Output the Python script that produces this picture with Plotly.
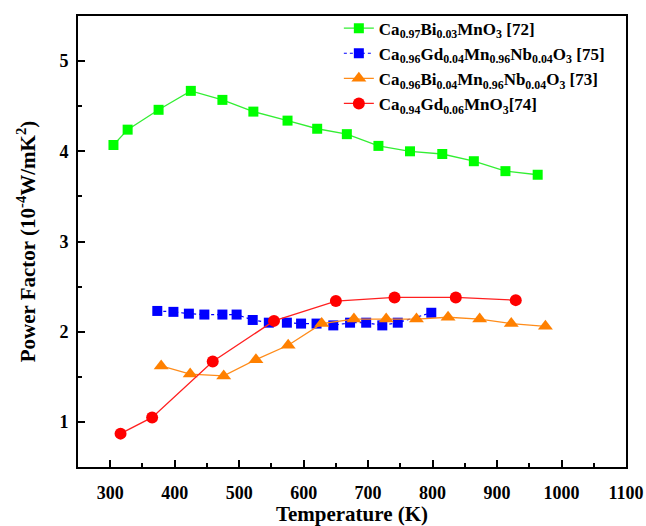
import plotly.graph_objects as go

# Ca0.97Bi0.03MnO3 [72]
t_bi03 = [305, 327, 375, 425, 474, 522, 575, 621, 667, 716, 765, 815, 864, 913, 963]
pf_bi03 = [4.07, 4.24, 4.46, 4.67, 4.57, 4.44, 4.34, 4.25, 4.19, 4.06, 4.00, 3.97, 3.89, 3.78, 3.74]

# Ca0.96Gd0.04Mn0.96Nb0.04O3 [75]
t_gdnb = [373, 398, 422, 446, 474, 496, 521, 546, 574, 596, 620, 646, 672, 697, 722, 746, 798]
pf_gdnb = [2.23, 2.22, 2.20, 2.19, 2.19, 2.19, 2.13, 2.10, 2.10, 2.09, 2.09, 2.07, 2.10, 2.10, 2.07, 2.10, 2.21]

# Ca0.96Bi0.04Mn0.96Nb0.04O3 [73]
t_binb = [379, 424, 476, 526, 576, 628, 678, 728, 775, 824, 873, 922, 975]
pf_binb = [1.62, 1.53, 1.51, 1.69, 1.85, 2.09, 2.14, 2.14, 2.14, 2.16, 2.14, 2.09, 2.06]

# Ca0.94Gd0.06MnO3 [74]
t_gd06 = [316, 365, 459, 554, 650, 741, 836, 929]
pf_gd06 = [0.87, 1.05, 1.67, 2.12, 2.34, 2.38, 2.38, 2.35]

names = [
    "Ca<sub>0.97</sub>Bi<sub>0.03</sub>MnO<sub>3</sub> [72]",
    "Ca<sub>0.96</sub>Gd<sub>0.04</sub>Mn<sub>0.96</sub>Nb<sub>0.04</sub>O<sub>3</sub> [75]",
    "Ca<sub>0.96</sub>Bi<sub>0.04</sub>Mn<sub>0.96</sub>Nb<sub>0.04</sub>O<sub>3</sub> [73]",
    "Ca<sub>0.94</sub>Gd<sub>0.06</sub>MnO<sub>3</sub>[74]",
]

x_ticks = [300, 400, 500, 600, 700, 800, 900, 1000, 1100]
y_ticks = [1, 2, 3, 4, 5]

FONT = "Liberation Serif, Times New Roman, serif"

fig = go.Figure()
fig.add_trace(go.Scatter(x=t_bi03, y=pf_bi03, name=names[0], mode="lines+markers",
                         line=dict(color="#33ee33", width=1.3),
                         marker=dict(symbol="square", size=10, color="#00ff00")))
fig.add_trace(go.Scatter(x=t_gdnb, y=pf_gdnb, name=names[1], mode="lines+markers",
                         line=dict(color="#0000ff", width=1.2, dash="dot"),
                         marker=dict(symbol="square", size=10, color="#0000ff")))
fig.add_trace(go.Scatter(x=t_binb, y=pf_binb, name=names[2], mode="lines+markers",
                         line=dict(color="#ff8c1a", width=1.3),
                         marker=dict(symbol="triangle-up", size=13, color="#ff8000")))
fig.add_trace(go.Scatter(x=t_gd06, y=pf_gd06, name=names[3], mode="lines+markers",
                         line=dict(color="#ff2020", width=1.3),
                         marker=dict(symbol="circle", size=12, color="#ff0000")))

axis_common = dict(
    showline=True, linecolor="black", linewidth=2, mirror=True,
    ticks="inside", ticklen=7, tickwidth=2, tickcolor="black",
    showgrid=False, zeroline=False, automargin=False,
    tickfont=dict(family=FONT, size=18, color="black", weight="bold"),
)

fig.update_xaxes(
    range=[250, 1100], tickvals=x_ticks, ticktext=[str(v) for v in x_ticks],
    minor=dict(dtick=50, tick0=0, ticks="inside", ticklen=4, tickwidth=2, tickcolor="black"),
    title=dict(text="Temperature (K)", font=dict(family=FONT, size=21, color="black", weight="bold"),
               standoff=8),
    ticklabelstandoff=8,
    **axis_common,
)
fig.update_yaxes(
    range=[0.5, 5.5], tickvals=y_ticks, ticktext=[str(v) for v in y_ticks],
    minor=dict(dtick=0.5, tick0=0, ticks="inside", ticklen=4, tickwidth=2, tickcolor="black"),
    title=dict(text="Power Factor (10<sup>-4</sup>W/mK<sup>2</sup>)",
               font=dict(family=FONT, size=21, color="black", weight="bold"), standoff=18),
    ticklabelstandoff=4,
    **axis_common,
)

fig.update_layout(
    width=646, height=526,
    margin=dict(l=78, r=20, t=16, b=59, autoexpand=False),
    plot_bgcolor="white", paper_bgcolor="white",
    font=dict(family=FONT, color="black"),
    legend=dict(x=0.476, y=1.012, xanchor="left", yanchor="top",
                bgcolor="rgba(0,0,0,0)", borderwidth=0,
                font=dict(family=FONT, size=17, color="black", weight="bold"),
                itemwidth=30, tracegroupgap=0),
)

fig.write_html(
    "out.html",
    config={"displayModeBar": False},
    post_script="document.body.style.margin='0';document.body.style.overflow='hidden';",
)
